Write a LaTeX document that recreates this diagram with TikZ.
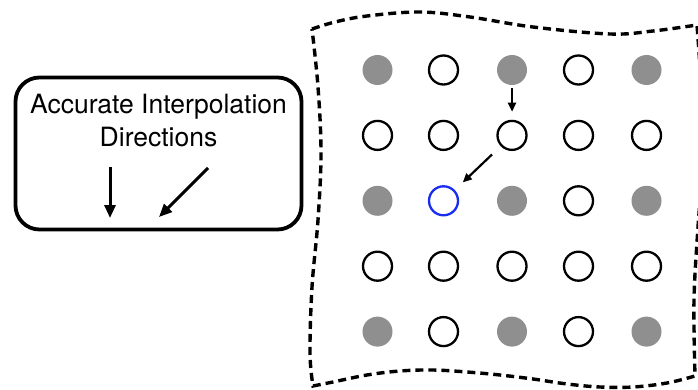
\documentclass[tikz,border=0pt]{standalone}
\usepackage{fontspec}
\setmainfont{TeX Gyre Heros}
\usetikzlibrary{arrows.meta}

\definecolor{dotgray}{RGB}{143,143,143}
\definecolor{ringblue}{RGB}{25,45,240}

\tikzset{
  filleddot/.style={circle, fill=dotgray, draw=none, minimum size=30pt, inner sep=0pt},
  opendot/.style={circle, draw=black, line width=2.3pt, minimum size=29pt, inner sep=0pt},
  bluedot/.style={circle, draw=ringblue, line width=2.3pt, minimum size=29pt, inner sep=0pt},
  legendbox/.style={draw=black, line width=3.8pt, rounded corners=24pt},
  bigarrow/.style={line width=3pt, -{Triangle[length=13pt,width=11pt]}},
  smallarrow/.style={line width=2.2pt, -{Triangle[length=9pt,width=8pt]}},
  border/.style={line width=3.4pt, dash pattern=on 8pt off 5pt, line join=miter}
}

\begin{document}
\begin{tikzpicture}[x=1pt, y=-1pt]
  \useasboundingbox (0,0) rectangle (698,390);
  \fill[white] (0,0) rectangle (698,390);

  % legend box with the two interpolation directions
  \node[legendbox, minimum width=286pt, minimum height=152pt] (legend) at (158.5,153.5) {};
  \node[align=center, font=\fontsize{26.5}{33}\selectfont, inner sep=0pt] (title)
    at (158.5,121) {Accurate Interpolation\\Directions};
  \coordinate (vs) at (110,167);
  \coordinate (ve) at (110,218);
  \coordinate (ds) at (208,168);
  \coordinate (de) at (159,217);
  \draw[bigarrow] (vs) -- (ve);
  \draw[bigarrow] (ds) -- (de);

  % deformed dashed patch boundary
  \begin{scope}
    \clip (0,0) rectangle (698,390);
    \draw[border]
      plot[smooth, tension=0.6] coordinates {(312,29) (335,22) (367,16) (420,12) (470,17) (533,27) (610,34) (653,31) (697,25)}
      -- plot[smooth, tension=0.6] coordinates {(697,25) (702,100) (703,160) (698,227) (694,300) (695,376)}
      -- plot[smooth, tension=0.6] coordinates {(695,376) (667,383) (633,387) (600,387) (567,384) (533,379) (500,375) (467,372) (433,370) (400,371) (367,375) (333,382) (313,386)}
      -- plot[smooth, tension=0.6] coordinates {(313,386) (310,353) (312,287) (318,220) (321,153) (318,87) (312,29)}
      -- cycle;
  \end{scope}

  % 5x5 sample grid: filled where row and column are both odd
  \foreach \r/\y in {1/70, 2/135.4, 3/200.8, 4/266.2, 5/331.6} {
    \foreach \c/\x in {1/377.5, 2/443.5, 3/512, 4/578.5, 5/646.5} {
      \pgfmathtruncatemacro{\both}{and(mod(\r,2)==1, mod(\c,2)==1)}
      \ifnum\r\c=32
        \node[bluedot] (g\r\c) at (\x,\y) {};
      \else
        \ifnum\both=1
          \node[filleddot] (g\r\c) at (\x,\y) {};
        \else
          \node[opendot] (g\r\c) at (\x,\y) {};
        \fi
      \fi
    }
  }

  % interpolation steps
  \draw[smallarrow, shorten <=3pt, shorten >=8pt] (g13) -- (g23);
  \draw[smallarrow, shorten <=12pt, shorten >=11pt] (g23) -- (g32);
\end{tikzpicture}
\end{document}
